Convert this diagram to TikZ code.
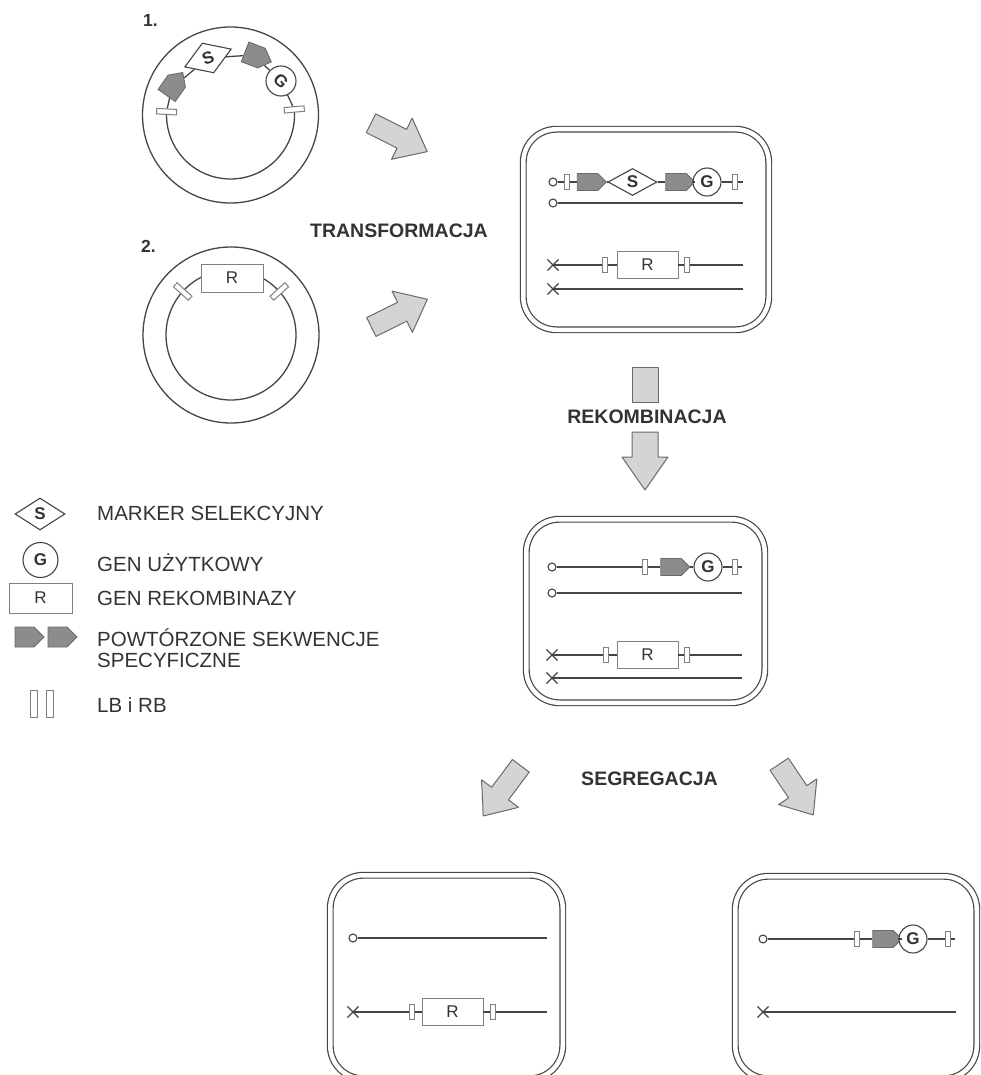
\documentclass[tikz,border=0pt]{standalone}
\usepackage{fontspec}
\setmainfont{Liberation Sans}
\usetikzlibrary{shapes.geometric,shapes.symbols,shapes.misc}
\definecolor{ink}{HTML}{454545}
\definecolor{txt}{HTML}{333333}
\definecolor{shade}{HTML}{8C8C8C}
\definecolor{pale}{HTML}{D4D4D4}
\definecolor{rim}{HTML}{808080}
\tikzset{
  strand/.style={draw=ink,line width=1.3pt},
  ori/.style={circle,draw=ink,fill=white,line width=1.1pt,inner sep=0pt,minimum size=8pt},
  krzyz/.style={cross out,draw=ink,line width=1.1pt,inner sep=0pt,minimum size=10pt},
  lbrb/.style={rectangle,draw=rim,fill=white,line width=1pt,inner sep=0pt,minimum width=5.5pt,minimum height=15pt},
  rep/.style={signal,signal to=east,draw=ink!80,fill=shade,line width=0.9pt,inner sep=0pt,minimum width=29pt,minimum height=17pt},
  sel/.style={diamond,draw=ink,fill=white,line width=1.1pt,inner sep=0pt,aspect=1.8,minimum width=49pt,minimum height=27pt,text=txt,font=\fontsize{17}{17}\selectfont\bfseries},
  uzyt/.style={circle,draw=ink,fill=white,line width=1.1pt,inner sep=0pt,minimum size=28pt,text=txt,font=\fontsize{17}{17}\selectfont\bfseries},
  rek/.style={rectangle,draw=rim,fill=white,line width=0.9pt,inner sep=0pt,minimum width=61pt,minimum height=27pt,text=txt,font=\fontsize{17}{17}\selectfont},
  cellbox/.style={rectangle,draw=ink,double,double distance=4.5pt,line width=1.2pt,rounded corners=33pt,inner sep=0pt},
  gruba/.style={draw=ink!80,fill=pale,line width=1pt,line join=round},
  opis/.style={anchor=base west,inner sep=0pt,text=txt,font=\fontsize{20.5}{20}\selectfont},
  etap/.style={anchor=base,inner sep=0pt,text=txt,font=\fontsize{19.5}{20}\selectfont\bfseries},
  numer/.style={anchor=base west,inner sep=0pt,text=txt,font=\fontsize{17.5}{18}\selectfont\bfseries}
}
\newcommand{\komorka}[5]{\node[cellbox,minimum width=#3pt,minimum height=#4pt] (#5) at (#1,#2) {};}
\newcommand{\strz}[6]{\draw[gruba,shift={(#1,#2)},rotate=#3] (0,-#5) -- ({#4-#6},-#5) -- ({#4-#6},-23) -- (#4,0) -- ({#4-#6},23) -- ({#4-#6},#5) -- (0,#5) -- cycle;}
\begin{document}
\begin{tikzpicture}[x=1pt,y=-1pt]
\useasboundingbox (0,0) rectangle (981,1075);
\clip (0,0) rectangle (981,1075);
% plasmid 1
\node[numer] (n1) at (143,27) {1.};
\draw[strand] (230.5,115) circle[radius=88];
\coordinate (p1c) at (230.5,115);
\draw[strand] (p1c) ++(-5:64) coordinate (p1r) arc[start angle=-5,end angle=183,radius=64] coordinate (p1l);
\node[lbrb,minimum height=20pt,rotate=87] (p1lb) at (p1l) {};
\node[lbrb,minimum height=20pt,rotate=-85] (p1rb) at (p1r) {};
\node[rep,minimum width=28pt,minimum height=21pt,rotate=55] (p1a) at (171.7,88.3) {};
\node[sel,minimum width=50pt,minimum height=32pt,rotate=21] (p1s) at (208,58) {S};
\node[rep,minimum width=28pt,minimum height=21pt,rotate=-21] (p1b) at (253.3,55) {};
\node[uzyt,minimum size=30pt,rotate=-45] (p1g) at (281,81) {G};
\draw[strand] (p1lb) -- (p1a) -- (p1s) -- (p1b) -- (p1g) -- (p1rb);
% plasmid 2
\node[numer] (n2) at (141,252) {2.};
\draw[strand] (231,335) circle[radius=88];
\draw[strand] (231,335) circle[radius=65];
\node[rek,minimum width=62pt,minimum height=28pt] (p2r) at (232,278) {R};
\node[lbrb,minimum height=20pt,rotate=48] (p2lb) at (182.7,291.5) {};
\node[lbrb,minimum height=20pt,rotate=-48] (p2rb) at (279.3,291.5) {};
% arrows and stages
\strz{371}{123.2}{-26.8}{63}{10.5}{28.5}
\strz{371.3}{327}{26.3}{62.5}{10.5}{28}
\node[etap] (lt) at (399,237) {TRANSFORMACJA};
\draw[gruba] (632,367) rectangle (658,402);
\node[etap] (lr) at (647,423) {REKOMBINACJA};
\strz{645}{432}{-90}{58}{13}{33}
\strz{520.8}{765.8}{-126.8}{62.7}{10.5}{28}
\strz{779.2}{764.2}{-56.1}{61.2}{11}{28}
\node[etap] (ls) at (649.5,785) {SEGREGACJA};
% cell after transformation
\komorka{646}{229.5}{245.5}{200.5}{k1}
\node[ori] (a1) at (553,182) {};
\node[lbrb] (a2) at (567,182) {};
\node[rep] (a3) at (587.5,182) {};
\node[sel] (a4) at (632.5,182) {S};
\node[rep] (a5) at (676,182) {};
\node[uzyt] (a6) at (707,182) {G};
\node[lbrb] (a7) at (735,182) {};
\coordinate (a8) at (743,182);
\draw[strand] (a1) -- (a2) -- (a3) -- (a4) -- (a5) -- (a6) -- (a7) -- (a8);
\node[ori] (a9) at (553,203) {};
\coordinate (a10) at (743,203);
\draw[strand] (a9) -- (a10);
\node[krzyz] (a11) at (553,265) {};
\node[lbrb] (a12) at (605,265) {};
\node[rek] (a13) at (647.5,265) {R};
\node[lbrb] (a14) at (687,265) {};
\coordinate (a15) at (743,265);
\draw[strand] (a11.center) -- (a12) -- (a13) -- (a14) -- (a15);
\node[krzyz] (a16) at (553,289) {};
\coordinate (a17) at (743,289);
\draw[strand] (a16.center) -- (a17);
% cell after recombination
\komorka{645.5}{611}{238.5}{183.5}{k2}
\node[ori] (b1) at (552,567) {};
\node[lbrb] (b2) at (645,567) {};
\node[rep] (b3) at (671,567) {};
\node[uzyt] (b4) at (708,567) {G};
\node[lbrb] (b5) at (735,567) {};
\coordinate (b6) at (742,567);
\draw[strand] (b1) -- (b2) -- (b3) -- (b4) -- (b5) -- (b6);
\node[ori] (b7) at (552,593) {};
\coordinate (b8) at (742,593);
\draw[strand] (b7) -- (b8);
\node[krzyz] (b9) at (552,655) {};
\node[lbrb] (b10) at (606,655) {};
\node[rek] (b11) at (647.5,655) {R};
\node[lbrb] (b12) at (687,655) {};
\coordinate (b13) at (742,655);
\draw[strand] (b9.center) -- (b10) -- (b11) -- (b12) -- (b13);
\node[krzyz] (b14) at (552,678) {};
\coordinate (b15) at (742,678);
\draw[strand] (b14.center) -- (b15);
% segregants
\komorka{446.5}{977}{232.5}{203.5}{k3}
\node[ori] (c1) at (353,938) {};
\coordinate (c2) at (547,938);
\draw[strand] (c1) -- (c2);
\node[krzyz] (c3) at (353,1012) {};
\node[lbrb] (c4) at (412,1012) {};
\node[rek] (c5) at (452.5,1012) {R};
\node[lbrb] (c6) at (493,1012) {};
\coordinate (c7) at (547,1012);
\draw[strand] (c3.center) -- (c4) -- (c5) -- (c6) -- (c7);
\komorka{856}{977.5}{241.5}{202.5}{k4}
\node[ori] (d1) at (763,939) {};
\node[lbrb] (d2) at (857,939) {};
\node[rep] (d3) at (883,939) {};
\node[uzyt] (d4) at (913,939) {G};
\node[lbrb] (d5) at (948,939) {};
\coordinate (d6) at (955,939);
\draw[strand] (d1) -- (d2) -- (d3) -- (d4) -- (d5) -- (d6);
\node[krzyz] (d7) at (763,1012) {};
\coordinate (d8) at (956,1012);
\draw[strand] (d7.center) -- (d8);
% legend
\node[sel,minimum width=50pt,minimum height=32pt] (lgs) at (40,514) {S};
\node[uzyt,minimum size=35pt] (lgg) at (40.5,560) {G};
\node[rek,minimum width=63pt,minimum height=30pt] (lgr) at (40.5,598) {R};
\node[rep,minimum height=20pt] (lgp1) at (24.5,637) {};
\node[rep,minimum height=20pt] (lgp2) at (57.5,637) {};
\node[lbrb,minimum width=7pt,minimum height=27pt] (lgb1) at (33.5,703.5) {};
\node[lbrb,minimum width=7pt,minimum height=27pt] (lgb2) at (49.5,703.5) {};
\node[opis] (t1) at (97,520) {MARKER SELEKCYJNY};
\node[opis] (t2) at (97,571) {GEN UŻYTKOWY};
\node[opis] (t3) at (97,605) {GEN REKOMBINAZY};
\node[opis] (t4) at (97,646) {POWTÓRZONE SEKWENCJE};
\node[opis] (t5) at (97,667) {SPECYFICZNE};
\node[opis] (t6) at (97,712) {LB i RB};
\end{tikzpicture}
\end{document}
